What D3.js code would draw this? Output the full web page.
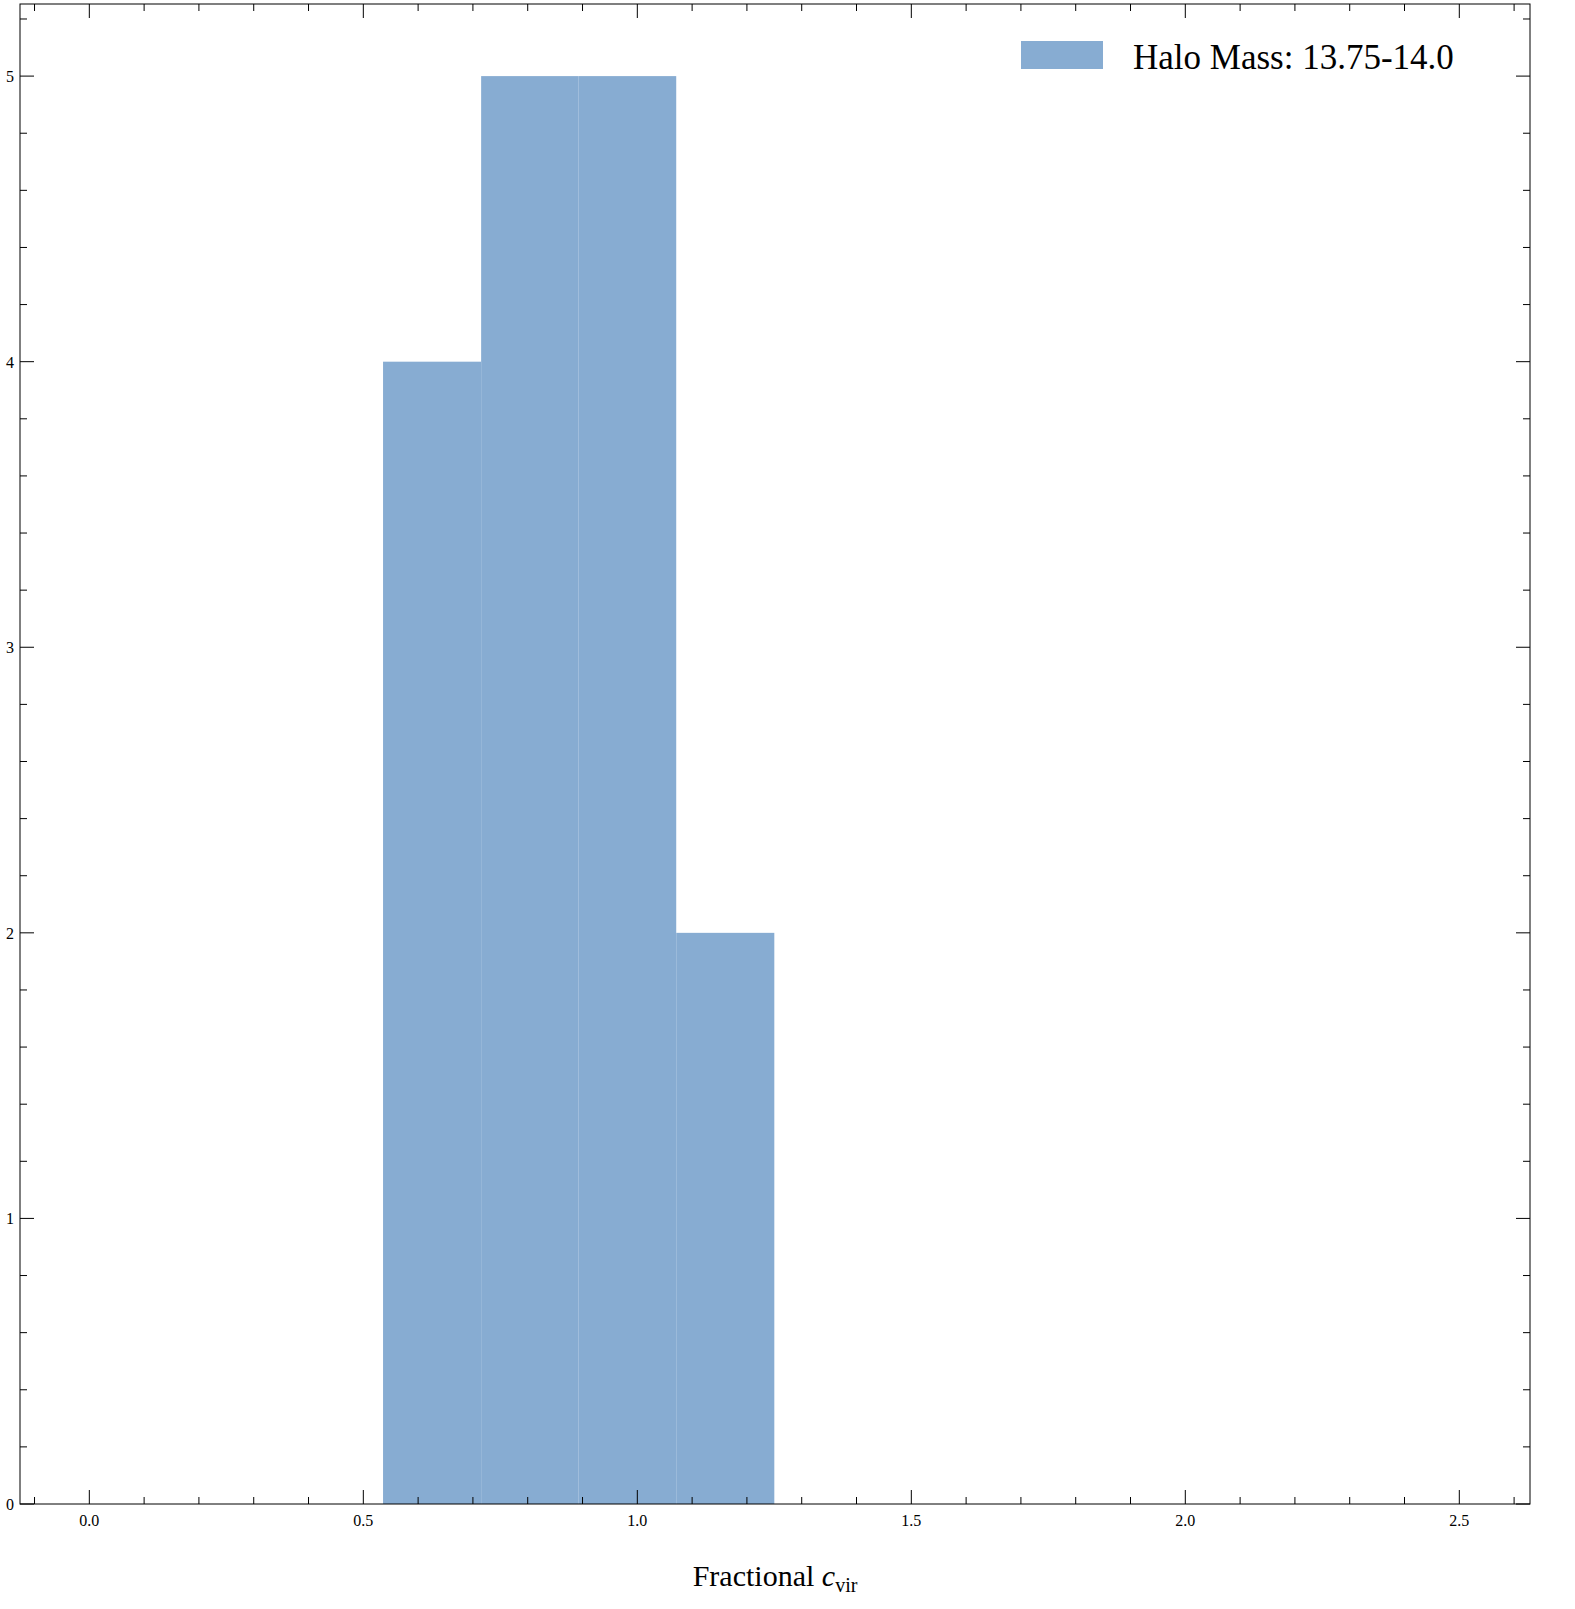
<!DOCTYPE html>
<html><head><meta charset="utf-8">
<script src="https://d3js.org/d3.v7.min.js"></script>
<style>body{margin:0;background:#fff}text{font-family:"Liberation Serif","DejaVu Serif",serif}</style>
</head><body><svg id="chart" width="1575" height="1609"></svg>
<script>
const binEdges = [0.536, 0.715, 0.893, 1.071, 1.25];
const counts = [4, 5, 5, 2];
const xTicks = [0.0, 0.5, 1.0, 1.5, 2.0, 2.5];
const yTicks = [0, 1, 2, 3, 4, 5];
const legendLabel = "Halo Mass: 13.75-14.0";

const L = 20, R = 1530, T = 4, B = 1504;
const svg = d3.select("#chart");
const x = d3.scaleLinear().domain([-0.1265, 2.629]).range([L, R]);
const y = d3.scaleLinear().domain([0, 5.2525]).range([B, T]);

svg.selectAll("rect.bar").data(counts).enter().append("rect")
  .attr("x", (d, i) => x(binEdges[i]))
  .attr("width", (d, i) => x(binEdges[i + 1]) - x(binEdges[i]))
  .attr("y", d => y(d)).attr("height", d => B - y(d))
  .attr("fill", "#87acd2");

const g = svg.append("g").attr("stroke", "#000").attr("stroke-width", 1);
g.append("rect").attr("x", L).attr("y", T).attr("width", R - L).attr("height", B - T).attr("fill", "none");

const xMinor = d3.range(-0.1, 2.65, 0.1);
const yMinor = d3.range(0, 5.25, 0.2);
xMinor.forEach(v => {
  const major = xTicks.some(t => Math.abs(t - v) < 1e-6);
  const len = major ? 14 : 7;
  g.append("line").attr("x1", x(v)).attr("x2", x(v)).attr("y1", B).attr("y2", B - len);
  g.append("line").attr("x1", x(v)).attr("x2", x(v)).attr("y1", T).attr("y2", T + len);
});
yMinor.forEach(v => {
  const major = yTicks.some(t => Math.abs(t - v) < 1e-6);
  const len = major ? 14 : 7;
  g.append("line").attr("y1", y(v)).attr("y2", y(v)).attr("x1", L).attr("x2", L + len);
  g.append("line").attr("y1", y(v)).attr("y2", y(v)).attr("x1", R).attr("x2", R - len);
});

svg.selectAll("text.xt").data(xTicks).enter().append("text")
  .attr("x", d => x(d)).attr("y", B + 22).attr("text-anchor", "middle")
  .attr("font-size", 16).text(d => d.toFixed(1));
svg.selectAll("text.yt").data(yTicks).enter().append("text")
  .attr("x", L - 6).attr("y", d => y(d) + 6).attr("text-anchor", "end")
  .attr("font-size", 16).text(d => d);

const xl = svg.append("text").attr("x", (L + R) / 2).attr("y", 1586)
  .attr("text-anchor", "middle").attr("font-size", 30);
xl.append("tspan").text("Fractional ");
xl.append("tspan").attr("font-style", "italic").text("c");
xl.append("tspan").attr("font-size", 20).attr("dy", 6).text("vir");

svg.append("rect").attr("x", 1021).attr("y", 41).attr("width", 82).attr("height", 28).attr("fill", "#87acd2");
svg.append("text").attr("x", 1133).attr("y", 69).attr("font-size", 35).text(legendLabel);
</script></body></html>
